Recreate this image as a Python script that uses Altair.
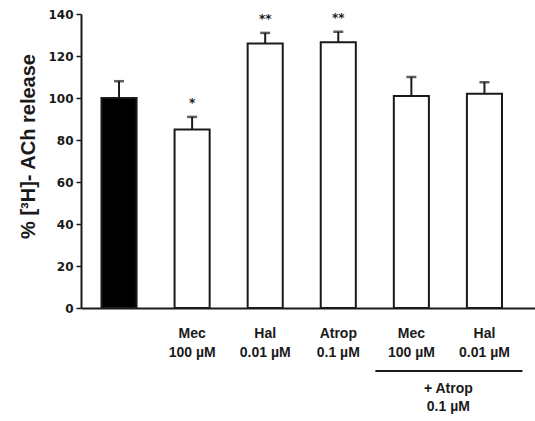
import altair as alt
import pandas as pd

# Treatment groups, in plotting order
groups = ["Control", "Mec", "Hal", "Atrop", "Mec+Atrop", "Hal+Atrop"]
label_top = ["", "Mec", "Hal", "Atrop", "Mec", "Hal"]
label_bottom = ["", "100 µM", "0.01 µM", "0.1 µM", "100 µM", "0.01 µM"]

# % [3H]-ACh release (mean and SEM)
means = [100, 85, 126, 126.5, 101, 102]
sems = [8, 6, 5, 5, 9, 5.5]
stars = ["", "*", "**", "**", "", ""]
fills = ["black", "white", "white", "white", "white", "white"]

# Bracket for the groups co-treated with atropine
bracket_from = ["Mec+Atrop"]
bracket_to = ["Hal+Atrop"]
bracket_line1 = ["+ Atrop"]
bracket_line2 = ["0.1 µM"]

df = pd.DataFrame({
    "group": groups,
    "top": label_top,
    "bottom": label_bottom,
    "mean": means,
    "sem": sems,
    "star": stars,
    "fill": fills,
})
bracket = pd.DataFrame({
    "a": bracket_from,
    "b": bracket_to,
    "l1": bracket_line1,
    "l2": bracket_line2,
})

INK = "#1a1a1a"
TICK_FONT = "DejaVu Sans"
TEXT_FONT = "Liberation Sans"

xscale = alt.Scale(domain=groups, paddingInner=0.52, paddingOuter=0.366, align=0.383)
yscale = alt.Scale(domain=[0, 140], nice=False)

x_enc = alt.X("group:N", scale=xscale, sort=groups,
              axis=alt.Axis(labels=False, ticks=False, title=None,
                            domainColor=INK, domainWidth=2))
y_axis = alt.Axis(
    values=[0, 20, 40, 60, 80, 100, 120, 140],
    grid=False,
    domainColor=INK, domainWidth=2,
    tickColor=INK, tickWidth=1.5, tickSize=5,
    labelFont=TICK_FONT, labelFontWeight="bold", labelFontSize=12,
    labelColor=INK, labelPadding=3,
    title="% [³H]- ACh release",
    titleFont=TEXT_FONT, titleFontWeight="bold", titleFontSize=20,
    titleColor=INK, titleAngle=270, titleAlign="center", titleBaseline="middle",
    titleX=-53, titleY=132,
)

base = alt.Chart(df)

bars = base.mark_bar(stroke=INK, strokeWidth=2).encode(
    x=x_enc,
    y=alt.Y("mean:Q", scale=yscale, axis=y_axis),
    fill=alt.Fill("fill:N", scale=None),
)

upper = base.transform_calculate(upper="datum.mean + datum.sem")

err_line = upper.mark_rule(color=INK, strokeWidth=2).encode(
    x=alt.X("group:N", scale=xscale, sort=groups),
    y=alt.Y("mean:Q", scale=yscale),
    y2="upper:Q",
)
err_cap = upper.mark_tick(color=INK, size=10, thickness=2.5).encode(
    x=alt.X("group:N", scale=xscale, sort=groups),
    y=alt.Y("upper:Q", scale=yscale),
)
star_text = upper.mark_text(
    font=TICK_FONT, fontWeight="bold", fontSize=12, color=INK,
    baseline="alphabetic", dy=-10,
).encode(
    x=alt.X("group:N", scale=xscale, sort=groups),
    y=alt.Y("upper:Q", scale=yscale),
    text="star:N",
)

label_style = dict(font=TEXT_FONT, fontWeight="bold", fontSize=14,
                   color=INK, baseline="middle", align="center")
lab1 = base.mark_text(**label_style).encode(
    x=alt.X("group:N", scale=xscale, sort=groups),
    y=alt.value(320),
    text="top:N",
)
lab2 = base.mark_text(**label_style).encode(
    x=alt.X("group:N", scale=xscale, sort=groups),
    y=alt.value(339),
    text="bottom:N",
)

bk = alt.Chart(bracket)
bk_rule = bk.mark_rule(color=INK, strokeWidth=2, xOffset=-36, x2Offset=38).encode(
    x=alt.X("a:N", scale=xscale),
    x2="b:N",
    y=alt.value(357),
)
bk_l1 = bk.mark_text(**label_style, xOffset=37).encode(
    x=alt.X("a:N", scale=xscale), y=alt.value(375), text="l1:N",
)
bk_l2 = bk.mark_text(**label_style, xOffset=37).encode(
    x=alt.X("a:N", scale=xscale), y=alt.value(393), text="l2:N",
)

chart = alt.layer(
    bars, err_line, err_cap, star_text, lab1, lab2, bk_rule, bk_l1, bk_l2
).properties(
    width=454,
    height=294,
    padding={"left": 81, "top": 14, "right": 0, "bottom": 113},
    autosize="none",
    background="white",
).configure_view(stroke=None)

chart.save("out.html", embed_options={"renderer": "svg", "actions": False})
